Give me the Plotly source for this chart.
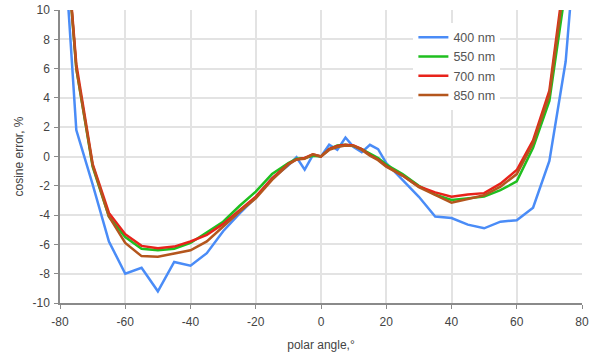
import plotly.graph_objects as go

angles = [-80, -75, -70, -65, -60, -55, -50, -45, -40, -35, -30, -25, -20, -15, -10,
          -7.5, -5, -2.5, 0, 2.5, 5, 7.5, 10, 12.5, 15, 17.5, 20,
          25, 30, 35, 40, 45, 50, 55, 60, 65, 70, 75, 80]

nm400 = [19, 1.8, -1.9, -5.8, -8.0, -7.6, -9.2, -7.2, -7.45, -6.6, -5.1, -3.9, -2.8, -1.5, -0.6,
         -0.05, -0.9, 0.1, 0.0, 0.8, 0.45, 1.3, 0.65, 0.3, 0.8, 0.5, -0.45,
         -1.6, -2.75, -4.1, -4.2, -4.65, -4.9, -4.45, -4.35, -3.5, -0.3, 6.5, 20]
nm550 = [20, 6.0, -0.7, -4.1, -5.5, -6.3, -6.4, -6.3, -5.9, -5.2, -4.45, -3.38, -2.4, -1.2, -0.45,
         -0.15, -0.1, 0.05, 0.0, 0.5, 0.75, 0.8, 0.72, 0.5, 0.2, -0.1, -0.55,
         -1.2, -2.0, -2.6, -2.97, -2.85, -2.74, -2.3, -1.7, 0.6, 3.8, 11.5, 30]
nm700 = [20, 6.3, -0.5, -3.85, -5.3, -6.1, -6.27, -6.15, -5.8, -5.35, -4.6, -3.65, -2.74, -1.5, -0.5,
         -0.2, -0.1, 0.15, 0.0, 0.5, 0.72, 0.8, 0.75, 0.5, 0.1, -0.2, -0.65,
         -1.3, -2.05, -2.45, -2.75, -2.6, -2.5, -1.85, -0.92, 1.1, 4.5, 13, 30]
nm850 = [20, 6.0, -0.6, -4.1, -5.9, -6.8, -6.85, -6.65, -6.4, -5.8, -4.8, -3.77, -2.85, -1.6, -0.55,
         -0.2, -0.15, 0.15, 0.0, 0.45, 0.65, 0.75, 0.72, 0.45, 0.05, -0.25, -0.7,
         -1.3, -2.1, -2.65, -3.15, -2.9, -2.65, -2.06, -1.2, 0.9, 4.2, 12.5, 30]

x_tick_vals = [-80, -60, -40, -20, 0, 20, 40, 60, 80]
x_tick_text = ["-80", "-60", "-40", "-20", "0", "20", "40", "60", "80"]
y_tick_vals = [-10, -8, -6, -4, -2, 0, 2, 4, 6, 8, 10]
y_tick_text = ["-10", "-8", "-6", "-4", "-2", "0", "2", "4", "6", "8", "10"]

series_names = ["400 nm", "550 nm", "700 nm", "850 nm"]
series_vals = [nm400, nm550, nm700, nm850]
series_colors = ["#4a8cf7", "#1fbf1f", "#e8231b", "#b4561d"]

fig = go.Figure()
for name, vals, col in zip(series_names, series_vals, series_colors):
    fig.add_trace(go.Scatter(x=angles, y=vals, mode="lines", name=name,
                             line=dict(color=col, width=2.5)))

axis_common = dict(
    showgrid=True, gridcolor="#e3e3e3", gridwidth=1.5,
    showline=True, linecolor="#8a8a8a", linewidth=1.5,
    ticks="outside", ticklen=4, tickcolor="#8a8a8a",
    zeroline=False,
    tickfont=dict(family="Arial", size=12, color="#444444"),
    mirror=False,
)

fig.update_xaxes(range=[-80, 80], tickvals=x_tick_vals, ticktext=x_tick_text, ticklabelstandoff=3,
                 title=dict(text="polar angle,°", font=dict(family="Arial", size=12, color="#444444"), standoff=12),
                 **axis_common)
fig.update_yaxes(range=[-10, 10], tickvals=y_tick_vals, ticktext=y_tick_text, ticklabelstandoff=2,
                 title=dict(text="cosine error, %", font=dict(family="Arial", size=12, color="#444444"), standoff=6),
                 **axis_common)

fig.update_layout(
    width=590, height=354,
    margin=dict(l=60, r=8, t=10, b=51, autoexpand=False),
    paper_bgcolor="white", plot_bgcolor="white",
    showlegend=True,
    legend=dict(x=0.677, y=0.957, xanchor="left", yanchor="top",
                bgcolor="white", borderwidth=0,
                font=dict(family="Arial", size=12.5, color="#555555"),
                tracegroupgap=0, itemwidth=30),
)

fig.write_html("out.html", config={"displayModeBar": False},
               post_script="document.body.style.margin='0';")
